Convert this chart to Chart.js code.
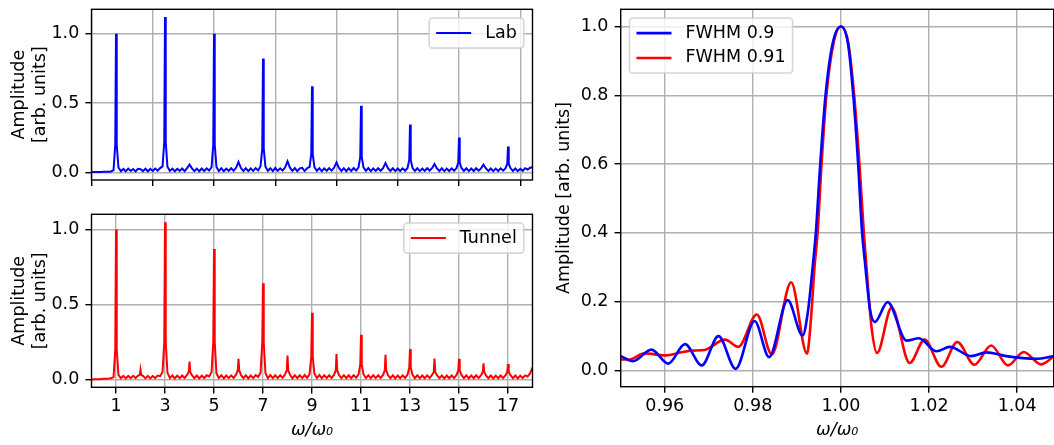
<!DOCTYPE html>
<html>
<head>
<meta charset="utf-8">
<script src="https://cdn.jsdelivr.net/npm/chart.js@4.4.1/dist/chart.umd.min.js"></script>
<style>
  html, body { margin: 0; padding: 0; background: #fff; }
  #fig { position: relative; width: 1054px; height: 445px; overflow: hidden; }
  #fig canvas { position: absolute; }
</style>
</head>
<body>
<div id="fig">
  <canvas id="labChart" width="540" height="200" style="left:0;top:0"></canvas>
  <canvas id="tunnelChart" width="540" height="245" style="left:0;top:200px"></canvas>
  <canvas id="fwhmChart" width="514" height="445" style="left:540px;top:0"></canvas>
</div>
<script>
// Harmonic spectra: background sampled every 0.1 in ω/ω0 from 0 to 18,
// the value at a harmonic is the level at the foot of its spike.
const specStep = 0.1;
const spikeHalfWidth = 0.03;

const labBase = [
  0.000, 0.001, 0.001, 0.002, 0.002, 0.003, 0.003, 0.004, 0.006, 0.015,
  0.200, 0.034, 0.008, 0.024, 0.007, 0.026, 0.009, 0.023, 0.006, 0.025,
  0.022, 0.008, 0.025, 0.007, 0.024, 0.009, 0.027, 0.012, 0.030, 0.042,
  0.220, 0.040, 0.009, 0.026, 0.007, 0.025, 0.010, 0.027, 0.008, 0.030,
  0.055, 0.028, 0.008, 0.026, 0.007, 0.027, 0.009, 0.028, 0.012, 0.036,
  0.200, 0.038, 0.009, 0.028, 0.007, 0.026, 0.010, 0.029, 0.011, 0.032,
  0.074, 0.030, 0.009, 0.028, 0.008, 0.027, 0.010, 0.030, 0.013, 0.044,
  0.170, 0.040, 0.010, 0.029, 0.008, 0.031, 0.010, 0.028, 0.012, 0.034,
  0.079, 0.033, 0.010, 0.030, 0.008, 0.028, 0.032, 0.009, 0.029, 0.038,
  0.130, 0.036, 0.010, 0.029, 0.008, 0.028, 0.011, 0.030, 0.012, 0.032,
  0.071, 0.031, 0.009, 0.029, 0.008, 0.028, 0.009, 0.030, 0.012, 0.036,
  0.110, 0.035, 0.010, 0.030, 0.008, 0.027, 0.010, 0.029, 0.011, 0.030,
  0.067, 0.030, 0.009, 0.028, 0.008, 0.027, 0.009, 0.028, 0.011, 0.031,
  0.090, 0.032, 0.009, 0.029, 0.008, 0.026, 0.010, 0.029, 0.012, 0.029,
  0.060, 0.028, 0.009, 0.028, 0.008, 0.026, 0.009, 0.028, 0.011, 0.030,
  0.070, 0.031, 0.009, 0.028, 0.008, 0.027, 0.009, 0.029, 0.011, 0.028,
  0.055, 0.027, 0.009, 0.027, 0.008, 0.026, 0.009, 0.028, 0.011, 0.029,
  0.060, 0.030, 0.009, 0.027, 0.008, 0.025, 0.010, 0.029, 0.020, 0.032,
  0.036
];
const labPeakX = [1, 3, 5, 7, 9, 11, 13, 15, 17];
const labPeakY = [1.0, 1.12, 1.0, 0.82, 0.62, 0.48, 0.345, 0.25, 0.186];

const tunnelBase = [
  0.000, 0.001, 0.002, 0.002, 0.003, 0.004, 0.005, 0.006, 0.008, 0.016,
  0.200, 0.030, 0.008, 0.024, 0.007, 0.023, 0.008, 0.024, 0.009, 0.026,
  0.030, 0.024, 0.007, 0.024, 0.007, 0.023, 0.009, 0.026, 0.022, 0.050,
  0.250, 0.045, 0.009, 0.026, 0.007, 0.025, 0.009, 0.026, 0.010, 0.030,
  0.050, 0.028, 0.008, 0.026, 0.007, 0.025, 0.009, 0.028, 0.020, 0.048,
  0.250, 0.040, 0.009, 0.028, 0.007, 0.026, 0.009, 0.027, 0.010, 0.032,
  0.060, 0.030, 0.008, 0.027, 0.007, 0.026, 0.009, 0.029, 0.016, 0.045,
  0.250, 0.042, 0.009, 0.029, 0.008, 0.027, 0.009, 0.028, 0.011, 0.034,
  0.060, 0.032, 0.008, 0.028, 0.008, 0.027, 0.009, 0.029, 0.011, 0.036,
  0.150, 0.038, 0.009, 0.029, 0.008, 0.028, 0.009, 0.028, 0.010, 0.032,
  0.060, 0.030, 0.008, 0.028, 0.008, 0.027, 0.008, 0.028, 0.011, 0.034,
  0.100, 0.035, 0.009, 0.028, 0.008, 0.027, 0.009, 0.028, 0.010, 0.030,
  0.060, 0.029, 0.008, 0.027, 0.007, 0.026, 0.008, 0.027, 0.010, 0.032,
  0.080, 0.032, 0.008, 0.028, 0.008, 0.026, 0.008, 0.027, 0.010, 0.030,
  0.050, 0.028, 0.008, 0.026, 0.007, 0.026, 0.008, 0.026, 0.009, 0.030,
  0.060, 0.030, 0.008, 0.027, 0.007, 0.026, 0.008, 0.027, 0.009, 0.028,
  0.050, 0.027, 0.008, 0.026, 0.007, 0.025, 0.008, 0.026, 0.009, 0.028,
  0.050, 0.028, 0.008, 0.026, 0.007, 0.025, 0.009, 0.027, 0.020, 0.040,
  0.080
];
const tunnelPeakX = [1, 2, 3, 4, 5, 6, 7, 8, 9, 10, 11, 12, 13, 14, 15, 16, 17];
const tunnelPeakY = [1.0, 0.065, 1.049, 0.119, 0.87, 0.137, 0.641, 0.159, 0.444,
                     0.170, 0.298, 0.164, 0.202, 0.139, 0.137, 0.108, 0.103];

// Close-up of the fundamental for the two pulse widths
const fwhm090X = [0.9500, 0.9528, 0.9570, 0.9608, 0.9646, 0.9684, 0.9722, 0.9761, 0.9804,
                  0.9837, 0.9879, 0.9913, 0.9925, 0.9935, 0.9943, 0.9953, 0.9965, 0.9981,
                  1.0000, 1.0016, 1.0028, 1.0039, 1.0048, 1.0054, 1.0066, 1.0077, 1.0106,
                  1.0149, 1.0177, 1.0217, 1.0247, 1.0296, 1.0330, 1.0375, 1.0443, 1.0483];
const fwhm090Y = [0.041, 0.026, 0.060, 0.019, 0.076, 0.014, 0.099, 0.004, 0.143,
                  0.038, 0.204, 0.101, 0.170, 0.290, 0.400, 0.600, 0.800, 0.950,
                  1.000, 0.950, 0.800, 0.600, 0.400, 0.320, 0.177, 0.140, 0.198,
                  0.086, 0.093, 0.055, 0.068, 0.041, 0.052, 0.041, 0.033, 0.041];
const fwhm091X = [0.9500, 0.9520, 0.9554, 0.9600, 0.9638, 0.9662, 0.9690, 0.9737, 0.9767,
                  0.9809, 0.9843, 0.9887, 0.9923, 0.9932, 0.9940, 0.9947, 0.9956, 0.9967,
                  0.9983, 1.0000, 1.0017, 1.0030, 1.0042, 1.0052, 1.0058, 1.0069, 1.0082,
                  1.0115, 1.0156, 1.0190, 1.0228, 1.0264, 1.0303, 1.0341, 1.0379, 1.0415,
                  1.0454, 1.0483];
const fwhm091Y = [0.031, 0.031, 0.049, 0.043, 0.052, 0.057, 0.059, 0.089, 0.068,
                  0.162, 0.046, 0.256, 0.048, 0.150, 0.300, 0.400, 0.600, 0.800,
                  0.950, 1.000, 0.950, 0.800, 0.600, 0.400, 0.300, 0.130, 0.050,
                  0.182, 0.021, 0.089, 0.010, 0.082, 0.016, 0.072, 0.014, 0.053,
                  0.017, 0.040];

const labXTicks = [0, 2.5, 5, 7.5, 10, 12.5, 15, 17.5];
const harmonicTicks = [1, 3, 5, 7, 9, 11, 13, 15, 17];
const ampTicks = [0, 0.5, 1.0];
const zoomXTicks = [0.96, 0.98, 1.00, 1.02, 1.04];
const zoomYTicks = [0, 0.2, 0.4, 0.6, 0.8, 1.0];

const FONT_PX = 17.5;
Chart.defaults.font.family = '"DejaVu Sans", sans-serif';
Chart.defaults.font.size = FONT_PX;
Chart.defaults.color = '#000';
Chart.defaults.animation = false;

function spectrumPoints(base, peakX, peakY) {
  const pts = [];
  base.forEach((y, i) => {
    const x = +(i * specStep).toFixed(1);
    const k = peakX.indexOf(x);
    if (k < 0) { pts.push({ x, y }); return; }
    pts.push({ x: x - spikeHalfWidth, y }, { x, y: peakY[k] }, { x: x + spikeHalfWidth, y });
  });
  return pts;
}

function zipPoints(xs, ys) {
  return xs.map((x, i) => ({ x, y: ys[i] }));
}

// black box round the plot area, drawn over the curves
const frame = {
  id: 'frame',
  afterDatasetsDraw(chart) {
    const { ctx, chartArea: a } = chart;
    ctx.save();
    ctx.strokeStyle = '#000';
    ctx.lineWidth = 1.4;
    ctx.strokeRect(a.left, a.top, a.right - a.left, a.bottom - a.top);
    ctx.restore();
  }
};

// legend box inside the plot corner
const boxLegend = {
  id: 'boxLegend',
  afterDatasetsDraw(chart, args, opts) {
    const { ctx, chartArea: a } = chart;
    const em = FONT_PX;
    const sets = chart.data.datasets;
    ctx.save();
    ctx.font = em + 'px "DejaVu Sans", sans-serif';
    const textW = Math.max(...sets.map(d => ctx.measureText(d.label).width));
    const rowH = 0.92 * em, gap = 0.5 * em, pad = 0.4 * em;
    const handle = 2 * em, handlePad = 0.8 * em, inset = 0.5 * em;
    const w = 2 * pad + handle + handlePad + textW;
    const h = 2 * pad + rowH * sets.length + gap * (sets.length - 1);
    const x0 = opts.align === 'left' ? a.left + inset : a.right - inset - w;
    const y0 = a.top + inset;
    const r = 0.2 * em;

    ctx.globalAlpha = 0.8;
    ctx.beginPath();
    ctx.roundRect(x0, y0, w, h, r);
    ctx.fillStyle = '#fff';
    ctx.fill();
    ctx.strokeStyle = '#ccc';
    ctx.lineWidth = 1.6;
    ctx.stroke();
    ctx.globalAlpha = 1;

    sets.forEach((d, i) => {
      const yc = y0 + pad + rowH / 2 + i * (rowH + gap);
      ctx.beginPath();
      ctx.moveTo(x0 + pad, yc);
      ctx.lineTo(x0 + pad + handle, yc);
      ctx.strokeStyle = d.borderColor;
      ctx.lineWidth = d.borderWidth;
      ctx.stroke();
      ctx.fillStyle = '#000';
      ctx.textBaseline = 'middle';
      ctx.textAlign = 'left';
      ctx.fillText(d.label, x0 + pad + handle + handlePad, yc);
    });
    ctx.restore();
  }
};

const gridStyle = { color: '#b0b0b0', lineWidth: 1.4, tickColor: '#000', tickWidth: 1.4, tickLength: 6.1 };

function xAxis({ min, max, ticks, height, label, format }) {
  return {
    type: 'linear', min, max,
    grid: gridStyle,
    border: { display: false },
    afterBuildTicks: s => { s.ticks = ticks.map(value => ({ value })); },
    afterFit: s => { s.height = height; s.paddingLeft = 0; s.paddingRight = 0; },
    ticks: { display: !!format, padding: 3, maxRotation: 0, autoSkip: false, callback: format || (() => '') },
    title: { display: !!label, text: label || '', font: { style: 'italic' }, padding: { top: 0, bottom: label ? 4.5 : 0 } }
  };
}

function yAxis({ min, max, ticks, width, label, titlePad }) {
  return {
    type: 'linear', min, max,
    grid: gridStyle,
    border: { display: false },
    afterBuildTicks: s => { s.ticks = ticks.map(value => ({ value })); },
    afterFit: s => { s.width = width; s.paddingTop = 0; s.paddingBottom = 0; },
    ticks: { padding: 6.1, autoSkip: false, callback: v => v.toFixed(1) },
    title: { display: true, text: label, font: { lineHeight: 1.2 }, padding: { top: titlePad, bottom: 0 } }
  };
}

const commonPlugins = { legend: { display: false }, tooltip: { enabled: false } };

new Chart(document.getElementById('labChart'), {
  type: 'line',
  data: {
    datasets: [{
      label: 'Lab',
      data: spectrumPoints(labBase, labPeakX, labPeakY),
      borderColor: '#0000ff', borderWidth: 2, pointRadius: 0, tension: 0
    }]
  },
  options: {
    responsive: false, devicePixelRatio: 1,
    layout: { padding: { top: 9.3, right: 7.5, left: 0, bottom: 0 } },
    scales: {
      x: xAxis({ min: 0, max: 18, ticks: labXTicks, height: 20 }),
      y: yAxis({ min: -0.056, max: 1.176, ticks: ampTicks, width: 91.5,
                 label: ['Amplitude', '[arb. units]'], titlePad: 9 })
    },
    plugins: { ...commonPlugins, boxLegend: { align: 'right' } }
  },
  plugins: [frame, boxLegend]
});

new Chart(document.getElementById('tunnelChart'), {
  type: 'line',
  data: {
    datasets: [{
      label: 'Tunnel',
      data: spectrumPoints(tunnelBase, tunnelPeakX, tunnelPeakY),
      borderColor: '#ff0000', borderWidth: 2, pointRadius: 0, tension: 0
    }]
  },
  options: {
    responsive: false, devicePixelRatio: 1,
    layout: { padding: { top: 14.3, right: 7.5, left: 0, bottom: 0 } },
    scales: {
      x: xAxis({ min: 0, max: 18, ticks: harmonicTicks, height: 57.7,
                 label: 'ω/ω₀', format: v => String(v) }),
      y: yAxis({ min: -0.0525, max: 1.1015, ticks: ampTicks, width: 91.5,
                 label: ['Amplitude', '[arb. units]'], titlePad: 9 })
    },
    plugins: { ...commonPlugins, boxLegend: { align: 'right' } }
  },
  plugins: [frame, boxLegend]
});

new Chart(document.getElementById('fwhmChart'), {
  type: 'line',
  data: {
    datasets: [
      { label: 'FWHM 0.9', data: zipPoints(fwhm090X, fwhm090Y),
        borderColor: '#0000ff', borderWidth: 2.6, pointRadius: 0, cubicInterpolationMode: 'monotone' },
      { label: 'FWHM 0.91', data: zipPoints(fwhm091X, fwhm091Y),
        borderColor: '#ff0000', borderWidth: 2.6, pointRadius: 0, cubicInterpolationMode: 'monotone' }
    ]
  },
  options: {
    responsive: false, devicePixelRatio: 1,
    layout: { padding: { top: 9.3, right: 0.3, left: 0, bottom: 0 } },
    scales: {
      x: xAxis({ min: 0.95, max: 1.0483, ticks: zoomXTicks, height: 58.3,
                 label: 'ω/ω₀', format: v => v.toFixed(2) }),
      y: yAxis({ min: -0.048, max: 1.05, ticks: zoomYTicks, width: 80.7,
                 label: 'Amplitude [arb. units]', titlePad: 13.5 })
    },
    plugins: { ...commonPlugins, boxLegend: { align: 'left' } }
  },
  plugins: [frame, boxLegend]
});
</script>
</body>
</html>
